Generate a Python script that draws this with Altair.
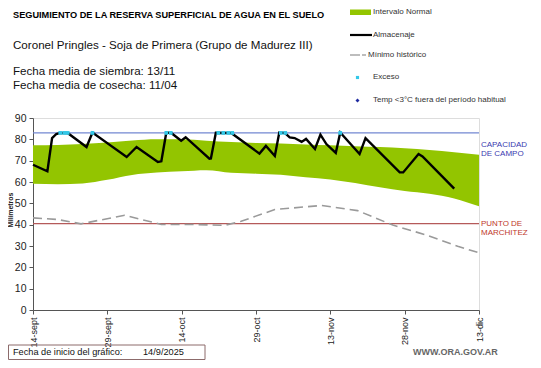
import altair as alt
import pandas as pd

# ---------------- data ----------------
tick_days = [0, 15, 30, 45, 60, 75, 90]
tick_labels = ["14-sept", "29-sept", "14-oct", "29-oct", "13-nov", "28-nov", "13-dic"]
y_ticks = [0, 10, 20, 30, 40, 50, 60, 70, 80, 90]

band_day = [0, 5, 10, 15, 20, 25, 30, 35, 40, 45, 50, 55, 60, 65, 70, 75, 80, 85, 90]
band_upper = [77.2, 77.4, 77.8, 78.5, 79.4, 80.0, 80.0, 79.3, 78.7, 78.3, 78.0, 77.6, 77.2, 76.8, 76.4, 75.8, 75.0, 74.0, 72.8]
band_lower = [59.2, 59.0, 59.3, 61.0, 63.3, 64.4, 65.0, 65.5, 64.3, 63.9, 63.4, 62.2, 61.2, 59.5, 57.5, 55.8, 54.5, 52.3, 48.6]

alm_day = [0, 2.9, 3.85, 4.7, 5.5, 7.0, 10.8, 12.0, 18.9, 20.9, 25.2, 25.9, 26.9, 27.9, 29.9, 30.8,
           35.6, 35.9, 36.9, 40.0, 45.7, 47.0, 48.8, 49.7, 50.8, 51.8, 52.8, 54.2, 55.1, 56.9, 58.0,
           59.2, 61.1, 62.0, 65.9, 67.1, 74.0, 74.7, 77.8, 78.6, 85.0]
alm_val = [68.1, 65.0, 80.6, 82.5, 83.0, 83.0, 76.4, 83.2, 71.7, 76.4, 69.4, 69.7, 83.2, 83.0, 79.4, 81.0,
           70.9, 71.0, 83.1, 83.0, 73.3, 76.9, 72.2, 83.2, 83.0, 80.9, 80.6, 78.8, 80.2, 75.5, 82.2,
           77.8, 73.6, 83.2, 73.1, 80.6, 64.5, 64.5, 73.1, 72.0, 56.9]

min_day = [0, 5, 9.7, 18.5, 25.9, 31.8, 38.7, 42.0, 48.8, 58.2, 65.5, 72.6, 79.0, 85.7, 90]
min_val = [43.2, 42.4, 40.4, 44.4, 40.1, 40.1, 39.7, 41.6, 47.1, 49.0, 46.6, 39.8, 35.4, 29.9, 26.8]

exc_day = [5.5, 6.3, 7.0, 12.0, 26.9, 27.8, 37.4, 38.4, 39.4, 40.2, 50.0, 50.9, 62.0]
exc_val = [83.0] * len(exc_day)

capacidad = [83.0]
marchitez = [40.5]

# ---------------- chart ----------------
W, H = 446, 192
FONT = "Liberation Sans"

x_scale = alt.Scale(domain=[0, 90], nice=False, zero=False)
y_scale = alt.Scale(domain=[0, 90], nice=False)

label_expr = "[" + ",".join("'%s'" % s for s in tick_labels) + "][round(datum.value/15)]"

x_axis = alt.Axis(values=tick_days, labelExpr=label_expr, labelAngle=270, labelAlign="right",
                  labelBaseline="middle", labelFontSize=9, labelColor="#222", labelFont=FONT,
                  title=None, grid=False, domainColor="#555", tickColor="#555", tickSize=4,
                  labelPadding=3, labelOverlap=False)
y_axis = alt.Axis(values=y_ticks, labelFontSize=10.5, labelColor="#222",
                  labelFont=FONT, title=None, grid=False, domainColor="#555", tickColor="#555",
                  tickSize=4, labelPadding=3, labelOverlap=False, labelFlush=False)


def X(f):
    return alt.X(f, type="quantitative", scale=x_scale, axis=x_axis)


def Y(f):
    return alt.Y(f, type="quantitative", scale=y_scale, axis=y_axis)


band_df = pd.DataFrame({"d": band_day, "u": band_upper, "l": band_lower})
alm_df = pd.DataFrame({"d": alm_day, "v": alm_val})
min_df = pd.DataFrame({"d": min_day, "v": min_val})
exc_df = pd.DataFrame({"d": exc_day, "v": exc_val})

band = alt.Chart(band_df).mark_area(color="#93c500", interpolate="monotone").encode(
    x=X("d"), y=Y("u"), y2="l:Q")

cap_rule = alt.Chart(pd.DataFrame({"v": capacidad})).mark_rule(color="#7387d2", strokeWidth=1.2).encode(
    y=Y("v"), x=alt.value(0), x2=alt.value(W))
mar_rule = alt.Chart(pd.DataFrame({"v": marchitez})).mark_rule(color="#b55a5a", strokeWidth=1.2).encode(
    y=Y("v"), x=alt.value(0), x2=alt.value(W))

min_line = alt.Chart(min_df).mark_line(color="#9a9a9a", strokeWidth=1.6, strokeDash=[9, 5]).encode(
    x=X("d"), y=Y("v"))

alm_line = alt.Chart(alm_df).mark_line(color="#000000", strokeWidth=2.4).encode(
    x=X("d"), y=Y("v"))

exc_pts = alt.Chart(exc_df).mark_point(shape="square", filled=True, color="#33c8e8", size=14, opacity=1).encode(
    x=X("d"), y=Y("v"))

one = pd.DataFrame({"a": [0]})


def txt(s, x, y, size, color="#000", weight="normal", align="left", font=FONT, angle=0):
    return alt.Chart(one).mark_text(text=s, fontSize=size, color=color, fontWeight=weight,
                                    align=align, baseline="middle", font=font, angle=angle).encode(
        x=alt.value(x), y=alt.value(y))


# plot origin is at page (33, 118)
OX, OY = 33, 118
def px(x):
    return x - OX
def py(y):
    return y - OY


texts = [
    txt("SEGUIMIENTO DE LA RESERVA  SUPERFICIAL DE AGUA EN EL SUELO", px(13), py(15), 9.2, weight="bold"),
    txt("Coronel Pringles - Soja de Primera (Grupo de Madurez III)", px(13), py(46), 11.6, color="#111"),
    txt("Fecha media de siembra: 13/11", px(13), py(72), 11.6, color="#111"),
    txt("Fecha media de cosecha: 11/04", px(13), py(86), 11.6, color="#111"),
    # legend labels
    txt("Intervalo Normal", px(373), py(12), 8, color="#333"),
    txt("Almacenaje", px(373), py(35), 8, color="#333"),
    txt("Mínimo histórico", px(368), py(55), 8, color="#333"),
    txt("Exceso", px(373), py(77), 8, color="#333"),
    txt("Temp <3°C fuera del período habitual", px(373), py(100), 8, color="#333"),
    # reference labels
    txt("CAPACIDAD", px(481), py(145), 8, color="#3b3bb0"),
    txt("DE  CAMPO", px(481), py(154), 8, color="#3b3bb0"),
    txt("PUNTO  DE", px(481), py(224), 8, color="#c0392b"),
    txt("MARCHITEZ", px(481), py(233), 8, color="#c0392b"),
    # y title
    txt("Milímetros", px(11), py(210), 7, weight="bold", align="center", angle=270, color="#222"),
    # bottom
    txt("Fecha de inicio del gráfico:", px(13), py(352), 9.2, color="#111"),
    txt("14/9/2025", px(143), py(352), 9.2, color="#111"),
    txt("WWW.ORA.GOV.AR", px(413), py(352), 9, color="#666", weight="bold"),
]

legend_marks = [
    alt.Chart(one).mark_rect(color="#93c500").encode(
        x=alt.value(px(350)), x2=alt.value(px(371)), y=alt.value(py(9.5)), y2=alt.value(py(15))),
    alt.Chart(one).mark_rule(color="#000", strokeWidth=2.2).encode(
        x=alt.value(px(350)), x2=alt.value(px(372)), y=alt.value(py(35))),
    alt.Chart(one).mark_rule(color="#999", strokeWidth=1.3).encode(
        x=alt.value(px(350)), x2=alt.value(px(360)), y=alt.value(py(55))),
    alt.Chart(one).mark_rule(color="#999", strokeWidth=1.3).encode(
        x=alt.value(px(362)), x2=alt.value(px(366)), y=alt.value(py(55))),
    alt.Chart(one).mark_point(shape="square", filled=True, color="#33c8e8", size=10, opacity=1).encode(
        x=alt.value(px(357.5)), y=alt.value(py(77.5))),
    alt.Chart(one).mark_point(shape="diamond", filled=True, color="#1f2aa0", size=16, opacity=1).encode(
        x=alt.value(px(357.5)), y=alt.value(py(100.5))),
    alt.Chart(one).mark_rect(fill="#ffffff", fillOpacity=0, stroke="#8c6b6b", strokeWidth=1).encode(
        x=alt.value(px(8.5)), x2=alt.value(px(205)), y=alt.value(py(345)), y2=alt.value(py(359.5))),
]

chart = alt.layer(band, cap_rule, mar_rule, min_line, alm_line, exc_pts, *legend_marks, *texts).properties(
    width=W, height=H,
    padding={"left": 25, "top": 110, "right": 54, "bottom": 50},
    autosize=alt.AutoSizeParams(type="none"),
).configure_view(stroke=None).configure(background="#ffffff")

chart.save("out.html", embed_options={"renderer": "svg", "actions": False})
